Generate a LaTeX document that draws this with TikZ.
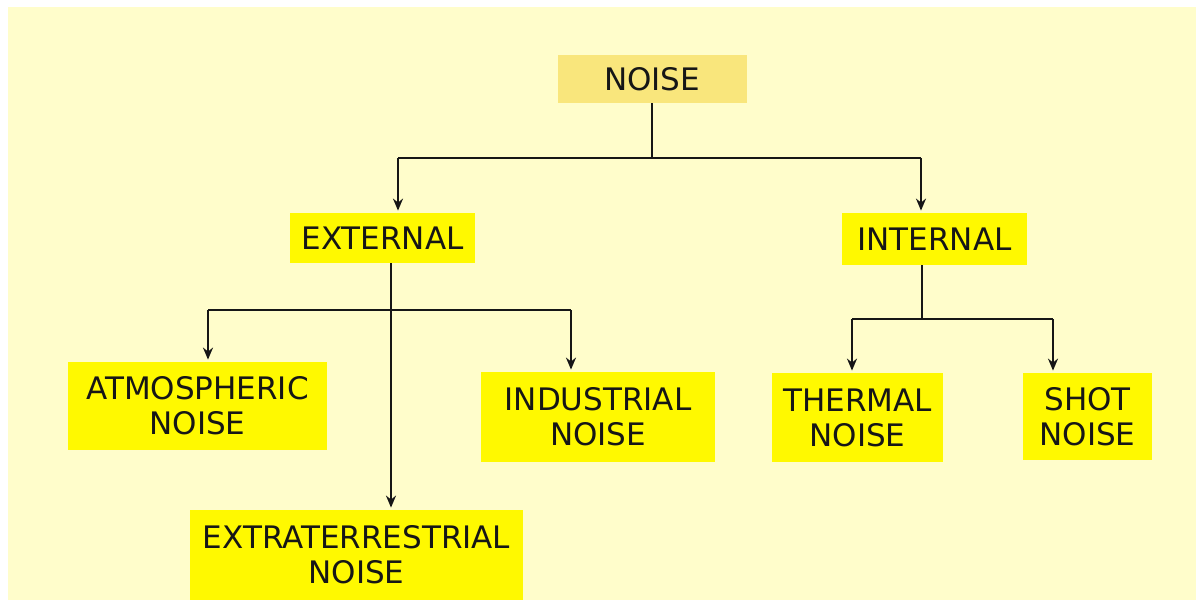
\documentclass[tikz,border=0pt]{standalone}
\usepackage{fontspec}
\setmainfont{DejaVu Sans}
\usetikzlibrary{arrows.meta}
\definecolor{cream}{HTML}{FFFDCB}
\definecolor{paleyel}{HTML}{F9E67C}
\definecolor{brightyel}{HTML}{FFF900}
\definecolor{ink}{HTML}{161616}
\tikzset{
  box/.style={fill=brightyel, inner sep=0pt, text=ink, align=center,
    font=\fontsize{15.5pt}{17.5pt}\selectfont},
  topbox/.style={box, fill=paleyel},
  ln/.style={draw=ink, line width=1pt},
  arr/.style={ln, -{Stealth[length=6pt,width=5pt]}, shorten >=1pt},
}
\begin{document}
\begin{tikzpicture}[x=0.5pt,y=-0.5pt]
\useasboundingbox (0,0) rectangle (1196,600);
\fill[white] (-4,-4) rectangle (1204,608);
\fill[cream] (8,7) rectangle (1204,608);
\begin{scope}
\clip (0,0) rectangle (1196,600);
% nodes
\node[topbox, minimum width=94.5pt, minimum height=24pt] (noise) at (652,79) {NOISE};
\node[box, minimum width=92.5pt, minimum height=25pt] (external) at (382.5,238) {EXTERNAL};
\node[box, minimum width=92.5pt, minimum height=26pt] (internal) at (934.5,239) {INTERNAL};
\node[box, minimum width=129.5pt, minimum height=44pt] (atmos) at (197.5,406) {ATMOSPHERIC\\NOISE};
\node[box, minimum width=117pt, minimum height=45pt] (indus) at (598,417) {INDUSTRIAL\\NOISE};
\node[box, minimum width=85.5pt, minimum height=44.5pt] (thermal) at (857.5,417.5) {THERMAL\\NOISE};
\node[box, minimum width=64.5pt, minimum height=43.5pt] (shot) at (1087.5,416.5) {SHOT\\NOISE};
\node[box, minimum width=166.5pt, minimum height=45pt] (extra) at (356.5,555) {EXTRATERRESTRIAL\\NOISE};
% junction coordinates
\coordinate (nb) at (652,158);
\coordinate (l1) at (398,158);
\coordinate (r1) at (921,158);
\coordinate (eb) at (391,310);
\coordinate (el) at (208,310);
\coordinate (er) at (571,310);
\coordinate (ib) at (922,319);
\coordinate (il) at (852,319);
\coordinate (ir) at (1053,319);
% connectors
\draw[ln] (noise.south) -- (nb);
\draw[ln] (l1) -- (r1);
\draw[arr] (l1) -- (l1 |- external.north);
\draw[arr] (r1) -- (r1 |- internal.north);
\draw[arr] (eb |- external.south) -- (eb |- extra.north);
\draw[ln] (el) -- (er);
\draw[arr] (el) -- (el |- atmos.north);
\draw[arr] (er) -- (er |- indus.north);
\draw[ln] (ib |- internal.south) -- (ib);
\draw[ln] (il) -- (ir);
\draw[arr] (il) -- (il |- thermal.north);
\draw[arr] (ir) -- (ir |- shot.north);
\end{scope}
\end{tikzpicture}
\end{document}
